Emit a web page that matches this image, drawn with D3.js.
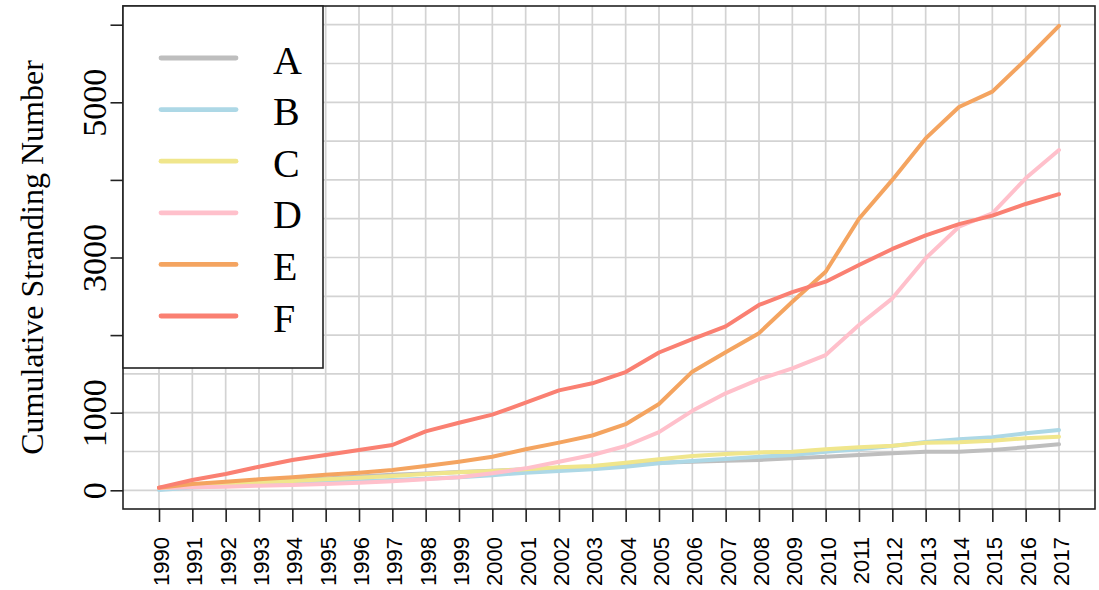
<!DOCTYPE html>
<html>
<head>
<meta charset="utf-8">
<script src="https://cdn.jsdelivr.net/npm/d3@7/dist/d3.min.js"></script>
<style>
body{margin:0;background:#fff;}
</style>
</head>
<body>
<div id="chart"></div>
<script>
//data
const years=[1990,1991,1992,1993,1994,1995,1996,1997,1998,1999,2000,2001,2002,2003,2004,2005,2006,2007,2008,2009,2010,2011,2012,2013,2014,2015,2016,2017];
const seriesNames=[`A`,`B`,`C`,`D`,`E`,`F`];
const valuesA=[25,58,85,108,128,152,178,200,218,235,252,270,290,305,330,355,368,380,392,412,433,455,477,498,498,519,554,593];
const valuesB=[5,35,55,72,88,103,118,133,150,167,195,227,249,271,304,348,378,403,433,455,498,528,571,622,657,683,735,777];
const valuesC=[30,55,81,103,120,142,162,184,210,234,249,271,296,313,356,399,442,468,488,498,528,554,575,614,619,639,670,691];
const valuesD=[30,39,46,59,68,81,98,116,142,167,219,283,369,455,571,750,1024,1250,1430,1571,1743,2130,2474,2990,3397,3570,4021,4385];
const valuesE=[34,81,111,142,167,201,227,262,313,369,433,528,614,706,852,1112,1529,1778,2025,2430,2817,3500,4000,4535,4940,5137,5550,5985];
const valuesF=[34,133,210,304,390,455,519,584,760,870,975,1129,1288,1379,1524,1776,1948,2113,2388,2553,2688,2903,3110,3284,3430,3540,3690,3816];
const yTickValues=[0,1000,2000,3000,4000,5000,6000];
const yTickLabels=[`0`,`1000`,``,`3000`,``,`5000`,``];
const yGridValues=[0,500,1000,1500,2000,2500,3000,3500,4000,4500,5000,5500,6000];
const yTitle=`Cumulative Stranding Number`;

let Setting={
    width:1099,
    height:590,
    plot:{left:123,right:1095,top:6,bottom:509},
    yDomain:[-241,6241],
    color:{A:`#bebebe`,B:`#add8e6`,C:`#f0e68c`,D:`#ffc0cb`,E:`#f4a460`,F:`#fa8072`},
    serif:`"Liberation Serif","Times New Roman",serif`,
    sans:`"Liberation Sans",Arial,sans-serif`
};

let Chart={
    //empty svg
    generateSvg(container){
        return d3.select(container).append(`svg`)
            .attr(`width`,Setting.width)
            .attr(`height`,Setting.height)
            .style(`background`,`#fff`);
    },
    //scales, padded like R does (4% each side)
    generateScales(){
        let ext=d3.extent(years),pad=(ext[1]-ext[0])*0.04;
        let x=d3.scaleLinear().domain([ext[0]-pad,ext[1]+pad]).range([Setting.plot.left,Setting.plot.right]);
        let y=d3.scaleLinear().domain(Setting.yDomain).range([Setting.plot.bottom,Setting.plot.top]);
        return {x,y};
    },
    generateGrid(svg,x,y){
        let p=Setting.plot;
        let g=svg.append(`g`).attr(`class`,`grid`)
            .attr(`stroke`,`#d3d3d3`).attr(`stroke-width`,1.7);
        g.selectAll(`line.v`).data(years).enter().append(`line`)
            .attr(`x1`,d=>x(d)).attr(`x2`,d=>x(d))
            .attr(`y1`,p.top).attr(`y2`,p.bottom);
        g.selectAll(`line.h`).data(yGridValues).enter().append(`line`)
            .attr(`x1`,p.left).attr(`x2`,p.right)
            .attr(`y1`,d=>y(d)).attr(`y2`,d=>y(d));
    },
    generateLines(svg,x,y){
        let all=[valuesA,valuesB,valuesC,valuesD,valuesE,valuesF];
        let lineData=seriesNames.map((name,i)=>({name,values:all[i]}));
        let valueline=d3.line()
            .x((d,i)=>x(years[i]))
            .y(d=>y(d));
        svg.append(`g`).attr(`class`,`lines`)
            .selectAll(`path`).data(lineData).enter().append(`path`)
            .attr(`fill`,`none`)
            .attr(`stroke`,d=>Setting.color[d.name])
            .attr(`stroke-width`,4)
            .attr(`stroke-linecap`,`round`)
            .attr(`stroke-linejoin`,`round`)
            .attr(`d`,d=>valueline(d.values));
    },
    generateXAxis(svg,x){
        let ax=svg.append(`g`).attr(`class`,`x axis`)
            .attr(`transform`,`translate(0,${Setting.plot.bottom})`)
            .call(d3.axisBottom(x).tickValues(years).tickSize(13).tickFormat(d3.format(`d`)));
        ax.select(`.domain`).remove();
        ax.selectAll(`.tick line`).attr(`stroke`,`#222`).attr(`stroke-width`,1.6);
        ax.selectAll(`.tick text`)
            .attr(`y`,null).attr(`dy`,null)
            .attr(`transform`,`translate(9.5,28) rotate(-90)`)
            .attr(`text-anchor`,`end`)
            .attr(`fill`,`#000`)
            .style(`font-family`,Setting.sans)
            .style(`font-size`,`22px`);
    },
    generateYAxis(svg,y){
        let ax=svg.append(`g`).attr(`class`,`y axis`)
            .attr(`transform`,`translate(${Setting.plot.left},0)`)
            .call(d3.axisLeft(y).tickValues(yTickValues).tickSize(12.5).tickFormat((d,i)=>yTickLabels[i]));
        ax.select(`.domain`).remove();
        ax.selectAll(`.tick line`).attr(`stroke`,`#222`).attr(`stroke-width`,1.6);
        ax.selectAll(`.tick text`)
            .attr(`x`,null).attr(`dy`,null)
            .attr(`transform`,`translate(-17,0) rotate(-90)`)
            .attr(`text-anchor`,`middle`)
            .attr(`fill`,`#000`)
            .style(`font-family`,Setting.serif)
            .style(`font-size`,`34px`);
        let p=Setting.plot;
        svg.append(`text`)
            .attr(`transform`,`translate(43,${(p.top+p.bottom)/2}) rotate(-90)`)
            .attr(`text-anchor`,`middle`)
            .style(`font-family`,Setting.serif)
            .style(`font-size`,`32px`)
            .text(yTitle);
    },
    generateBox(svg){
        let p=Setting.plot;
        svg.append(`rect`)
            .attr(`x`,p.left).attr(`y`,p.top)
            .attr(`width`,p.right-p.left).attr(`height`,p.bottom-p.top)
            .attr(`fill`,`none`).attr(`stroke`,`#222`).attr(`stroke-width`,1.6);
    },
    //legend box top left
    generateLegend(svg){
        let p=Setting.plot;
        let g=svg.append(`g`).attr(`class`,`legend`);
        g.append(`rect`)
            .attr(`x`,p.left).attr(`y`,p.top)
            .attr(`width`,200).attr(`height`,362)
            .attr(`fill`,`#fff`).attr(`stroke`,`#222`).attr(`stroke-width`,1.6);
        let item=g.selectAll(`g.item`).data(seriesNames).enter().append(`g`)
            .attr(`transform`,(d,i)=>`translate(0,${58+i*51.6})`);
        item.append(`line`)
            .attr(`x1`,161).attr(`x2`,236)
            .attr(`stroke`,d=>Setting.color[d])
            .attr(`stroke-width`,4.8)
            .attr(`stroke-linecap`,`round`);
        item.append(`text`)
            .attr(`x`,273).attr(`y`,15.5)
            .style(`font-family`,Setting.serif)
            .style(`font-size`,`40px`)
            .text(d=>d);
    }
};

let svg=Chart.generateSvg(`#chart`);
let {x,y}=Chart.generateScales();
Chart.generateGrid(svg,x,y);
Chart.generateLines(svg,x,y);
Chart.generateXAxis(svg,x);
Chart.generateYAxis(svg,y);
Chart.generateBox(svg);
Chart.generateLegend(svg);
</script>
</body>
</html>
